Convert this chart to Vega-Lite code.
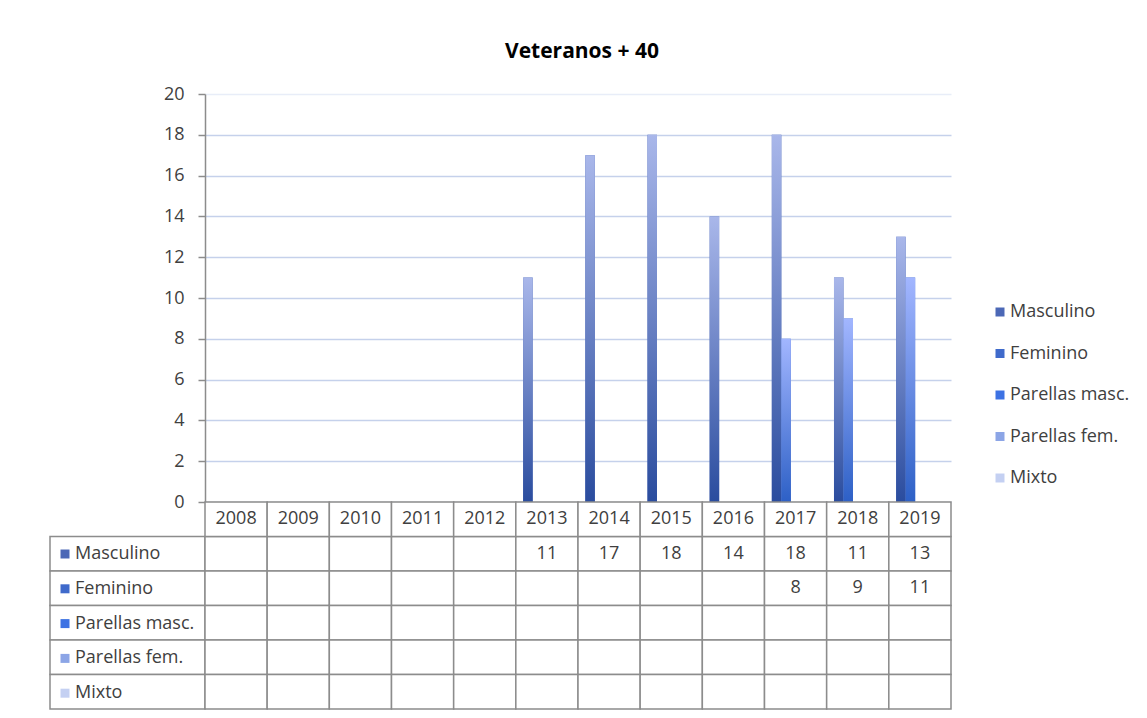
{
  "$schema": "https://vega.github.io/schema/vega-lite/v6.json",
  "background": "white",
  "padding": {"left": 49, "top": 41, "right": 5, "bottom": 5},
  "config": {"view": {"stroke": null}, "font": "Open Sans"},
  "datasets": {
    "cells": [
      {"year": "2008", "series": "Masculino", "value": null},
      {"year": "2009", "series": "Masculino", "value": null},
      {"year": "2010", "series": "Masculino", "value": null},
      {"year": "2011", "series": "Masculino", "value": null},
      {"year": "2012", "series": "Masculino", "value": null},
      {"year": "2013", "series": "Masculino", "value": 11},
      {"year": "2014", "series": "Masculino", "value": 17},
      {"year": "2015", "series": "Masculino", "value": 18},
      {"year": "2016", "series": "Masculino", "value": 14},
      {"year": "2017", "series": "Masculino", "value": 18},
      {"year": "2018", "series": "Masculino", "value": 11},
      {"year": "2019", "series": "Masculino", "value": 13},
      {"year": "2008", "series": "Feminino", "value": null},
      {"year": "2009", "series": "Feminino", "value": null},
      {"year": "2010", "series": "Feminino", "value": null},
      {"year": "2011", "series": "Feminino", "value": null},
      {"year": "2012", "series": "Feminino", "value": null},
      {"year": "2013", "series": "Feminino", "value": null},
      {"year": "2014", "series": "Feminino", "value": null},
      {"year": "2015", "series": "Feminino", "value": null},
      {"year": "2016", "series": "Feminino", "value": null},
      {"year": "2017", "series": "Feminino", "value": 8},
      {"year": "2018", "series": "Feminino", "value": 9},
      {"year": "2019", "series": "Feminino", "value": 11},
      {"year": "2008", "series": "Parellas masc.", "value": null},
      {"year": "2009", "series": "Parellas masc.", "value": null},
      {"year": "2010", "series": "Parellas masc.", "value": null},
      {"year": "2011", "series": "Parellas masc.", "value": null},
      {"year": "2012", "series": "Parellas masc.", "value": null},
      {"year": "2013", "series": "Parellas masc.", "value": null},
      {"year": "2014", "series": "Parellas masc.", "value": null},
      {"year": "2015", "series": "Parellas masc.", "value": null},
      {"year": "2016", "series": "Parellas masc.", "value": null},
      {"year": "2017", "series": "Parellas masc.", "value": null},
      {"year": "2018", "series": "Parellas masc.", "value": null},
      {"year": "2019", "series": "Parellas masc.", "value": null},
      {"year": "2008", "series": "Parellas fem.", "value": null},
      {"year": "2009", "series": "Parellas fem.", "value": null},
      {"year": "2010", "series": "Parellas fem.", "value": null},
      {"year": "2011", "series": "Parellas fem.", "value": null},
      {"year": "2012", "series": "Parellas fem.", "value": null},
      {"year": "2013", "series": "Parellas fem.", "value": null},
      {"year": "2014", "series": "Parellas fem.", "value": null},
      {"year": "2015", "series": "Parellas fem.", "value": null},
      {"year": "2016", "series": "Parellas fem.", "value": null},
      {"year": "2017", "series": "Parellas fem.", "value": null},
      {"year": "2018", "series": "Parellas fem.", "value": null},
      {"year": "2019", "series": "Parellas fem.", "value": null},
      {"year": "2008", "series": "Mixto", "value": null},
      {"year": "2009", "series": "Mixto", "value": null},
      {"year": "2010", "series": "Mixto", "value": null},
      {"year": "2011", "series": "Mixto", "value": null},
      {"year": "2012", "series": "Mixto", "value": null},
      {"year": "2013", "series": "Mixto", "value": null},
      {"year": "2014", "series": "Mixto", "value": null},
      {"year": "2015", "series": "Mixto", "value": null},
      {"year": "2016", "series": "Mixto", "value": null},
      {"year": "2017", "series": "Mixto", "value": null},
      {"year": "2018", "series": "Mixto", "value": null},
      {"year": "2019", "series": "Mixto", "value": null}
    ]
  },
  "columns": 2,
  "spacing": 0,
  "bounds": "flush",
  "resolve": {"legend": {"color": "independent"}},
  "concat": [
    {
      "width": 155,
      "height": 408,
      "data": {"values": [{}]},
      "mark": {"type": "text", "text": ""},
      "encoding": {}
    },
    {
      "width": 746,
      "height": 408,
      "title": {"text": "Veteranos + 40", "fontSize": 21, "fontWeight": "bold", "color": "#000000", "anchor": "middle", "frame": "group", "offset": 6, "baseline": "alphabetic", "font": "Open Sans", "dx": 4},
      "data": {"name": "cells"},
      "transform": [{"filter": "datum.value != null"}],
      "encoding": {
        "x": {"field": "year", "type": "nominal", "scale": {"domain": ["2008","2009","2010","2011","2012","2013","2014","2015","2016","2017","2018","2019"], "paddingInner": 0, "paddingOuter": 0}, "axis": null},
        "xOffset": {"field": "series", "type": "nominal", "scale": {"domain": ["Masculino","Feminino","Parellas masc.","Parellas fem.","Mixto"], "paddingInner": 0, "paddingOuter": 0.77}},
        "y": {"field": "value", "type": "quantitative", "scale": {"domain": [0, 20], "nice": false},
          "axis": {"title": null, "values": [0,2,4,6,8,10,12,14,16,18,20], "labelFontSize": 18, "labelColor": "#404040", "labelFont": "Open Sans", "labelPadding": 14, "tickSize": 7, "tickColor": "#8c8c8c", "tickWidth": 1.5, "domainColor": "#8c8c8c", "domainWidth": 1.5,
            "gridColor": {"condition": {"test": "datum.value === 20", "value": "#e8edf8"}, "value": "#c5d1eb"}, "gridWidth": 1.5}}
      },
      "layer": [
        {
          "mark": {"type": "bar"},
          "encoding": {
            "color": {"field": "series", "type": "nominal",
              "scale": {"domain": ["Masculino","Feminino","Parellas masc.","Parellas fem.","Mixto"], "range": ["#4c68b6", "#3f6acb", "#3d72e3", "#8ca5e6", "#c4d0f2"]},
              "legend": {"orient": "none", "legendX": 786, "legendY": 209, "title": null, "symbolType": "square", "symbolSize": 81, "symbolStrokeWidth": 0, "labelFontSize": 18, "labelColor": "#404040", "labelFont": "Open Sans", "rowPadding": 23.5, "labelOffset": 1, "padding": 0, "direction": "vertical"}}
          }
        },
        {
          "transform": [{"filter": "datum.series === 'Masculino'"}],
          "mark": {"type": "bar", "color": {"gradient": "linear", "x1": 0, "y1": 0, "x2": 0, "y2": 1, "stops": [{"offset": 0, "color": "#a9b7ea"}, {"offset": 1, "color": "#2a4c9e"}]}}
        },
        {
          "transform": [{"filter": "datum.series === 'Feminino'"}],
          "mark": {"type": "bar", "color": {"gradient": "linear", "x1": 0, "y1": 0, "x2": 0, "y2": 1, "stops": [{"offset": 0, "color": "#a2b6ff"}, {"offset": 1, "color": "#2d60c6"}]}}
        }
      ]
    },
    {
      "width": 155,
      "height": 207,
      "data": {"name": "cells"},
      "transform": [{"aggregate": [{"op": "count", "as": "n"}], "groupby": ["series"]}],
      "encoding": {
        "y": {"field": "series", "type": "nominal", "scale": {"domain": ["hdr","Masculino","Feminino","Parellas masc.","Parellas fem.","Mixto"], "paddingInner": 0, "paddingOuter": 0}, "axis": null}
      },
      "layer": [
        {
          "mark": {"type": "rect"},
          "encoding": {
            "color": {"field": "series", "type": "nominal",
              "scale": {"domain": ["Masculino","Feminino","Parellas masc.","Parellas fem.","Mixto"], "range": ["#4c68b6", "#3f6acb", "#3d72e3", "#8ca5e6", "#c4d0f2"]},
              "legend": {"orient": "none", "legendX": 6, "legendY": 43, "title": null, "symbolType": "square", "symbolSize": 81, "symbolStrokeWidth": 0, "labelFontSize": 18, "labelColor": "#404040", "labelFont": "Open Sans", "rowPadding": 16.8, "labelOffset": 1, "padding": 0, "direction": "vertical"}}
          }
        },
        {
          "mark": {"type": "rect", "fill": "white", "stroke": "#8c8c8c", "strokeWidth": 1.5}
        }
      ]
    },
    {
      "width": 746,
      "height": 207,
      "data": {"name": "cells"},
      "encoding": {
        "x": {"field": "year", "type": "nominal", "scale": {"domain": ["2008","2009","2010","2011","2012","2013","2014","2015","2016","2017","2018","2019"], "paddingInner": 0, "paddingOuter": 0}, "axis": null}
      },
      "layer": [
        {
          "mark": {"type": "rect", "fill": "white", "stroke": "#8c8c8c", "strokeWidth": 1.5},
          "encoding": {"y": {"field": "series", "type": "nominal", "scale": {"domain": ["hdr","Masculino","Feminino","Parellas masc.","Parellas fem.","Mixto"], "paddingInner": 0, "paddingOuter": 0}, "axis": null}}
        },
        {
          "transform": [{"aggregate": [{"op": "count", "as": "n"}], "groupby": ["year"]}],
          "mark": {"type": "rect", "fill": "white", "stroke": "#8c8c8c", "strokeWidth": 1.5},
          "encoding": {"y": {"datum": "hdr", "type": "nominal"}}
        },
        {
          "transform": [{"filter": "datum.value != null"}],
          "mark": {"type": "text", "fontSize": 18, "color": "#404040", "baseline": "middle", "font": "Open Sans"},
          "encoding": {"y": {"field": "series", "type": "nominal"}, "text": {"field": "value", "type": "quantitative"}}
        },
        {
          "transform": [{"aggregate": [{"op": "count", "as": "n"}], "groupby": ["year"]}],
          "mark": {"type": "text", "fontSize": 18, "color": "#404040", "baseline": "middle", "font": "Open Sans"},
          "encoding": {"y": {"datum": "hdr", "type": "nominal"}, "text": {"field": "year", "type": "nominal"}}
        }
      ]
    }
  ]
}
